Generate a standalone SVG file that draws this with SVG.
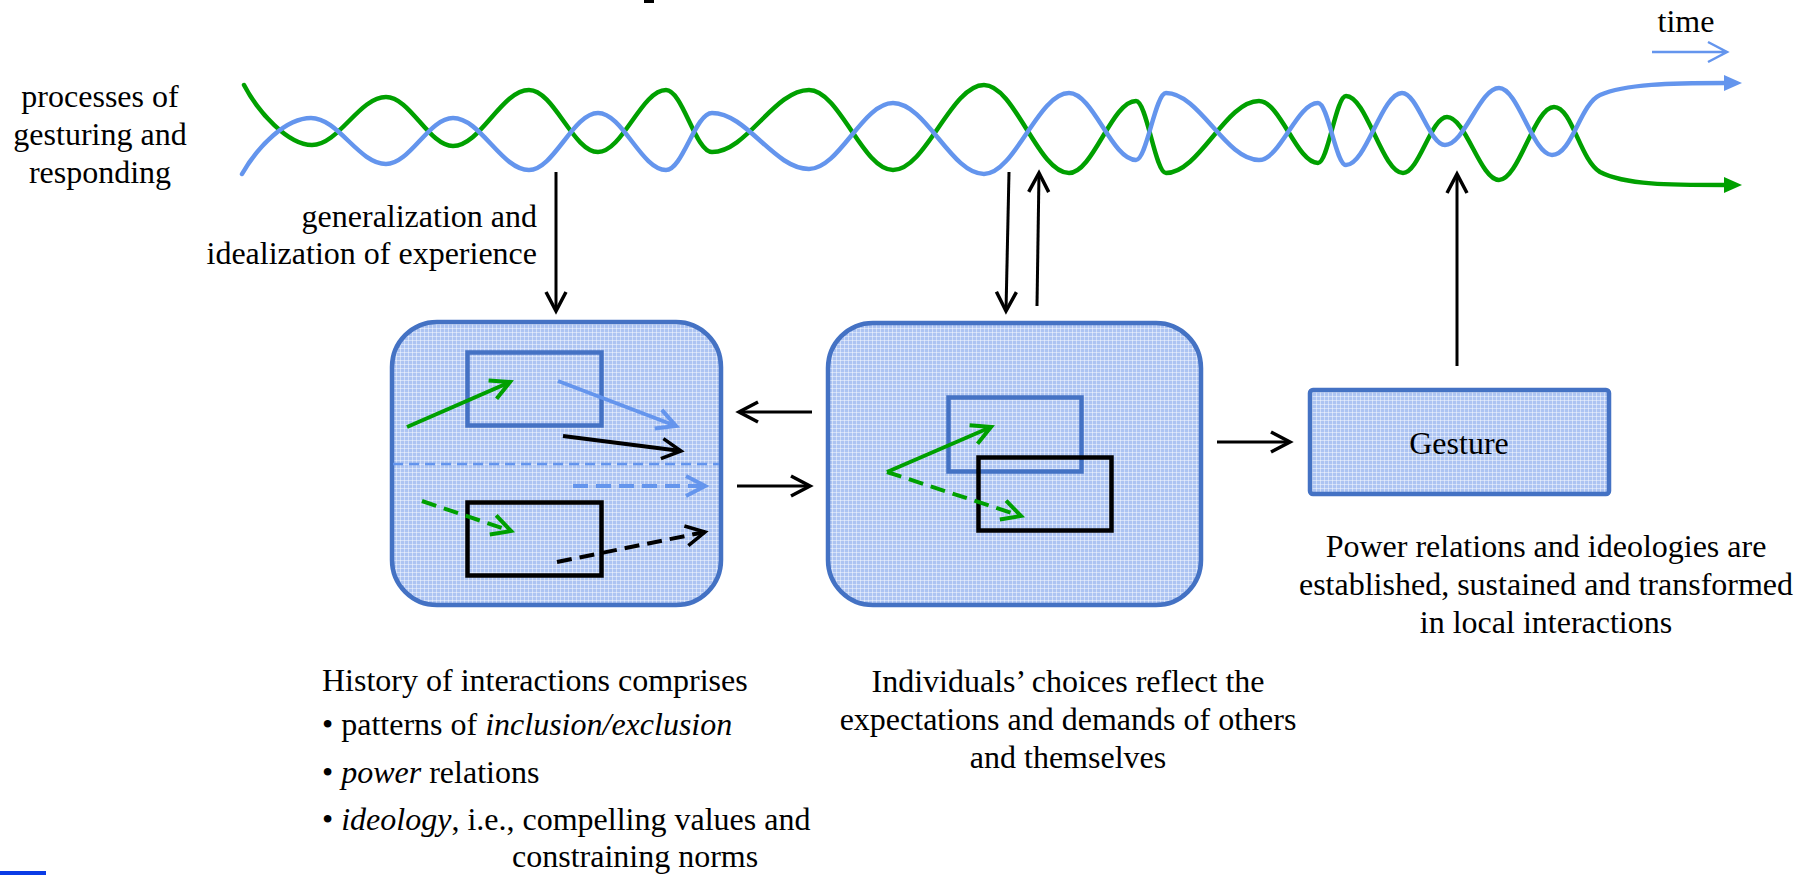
<svg xmlns="http://www.w3.org/2000/svg" width="1807" height="875" viewBox="0 0 1807 875">
<style>
  text { font-family: "Liberation Serif", "Times New Roman", serif; font-size: 32px; fill: #000; }
  .c { text-anchor: middle; }
  .r { text-anchor: end; }
  .it { font-style: italic; }
  .blue-wave { fill: none; stroke: #6495ED; stroke-width: 4.5; stroke-linecap: round; }
  .green-wave { fill: none; stroke: #00A000; stroke-width: 4.5; stroke-linecap: round; }
  .box { fill: url(#grid); stroke: #4472C4; stroke-width: 4.5; }
  .inner-blue { fill: none; stroke: #4472C4; stroke-width: 4.5; }
  .inner-black { fill: none; stroke: #000; stroke-width: 4.5; }
  .conn { fill: none; stroke: #000; stroke-width: 3; marker-end: url(#ab); }
  .ia-black { fill: none; stroke: #000; stroke-width: 4; marker-end: url(#ab); }
  .ia-green { fill: none; stroke: #00A000; stroke-width: 4; marker-end: url(#ag); }
  .ia-blue { fill: none; stroke: #6495ED; stroke-width: 4; marker-end: url(#al); }
  .dash { stroke-dasharray: 15 8; }
</style>
<defs>
  <pattern id="grid" width="4" height="4" patternUnits="userSpaceOnUse">
    <rect width="4" height="4" fill="#adc4f2"/>
    <rect x="0" y="0" width="4" height="1" fill="#ffffff" fill-opacity="0.45"/>
    <rect x="0" y="0" width="1" height="4" fill="#ffffff" fill-opacity="0.45"/>
  </pattern>
  <marker id="ab" viewBox="-22 -12 26 24" refX="0" refY="0" markerWidth="26" markerHeight="24" markerUnits="userSpaceOnUse" orient="auto">
    <path d="M-19,-10 L0,0 L-19,10" fill="none" stroke="#000" stroke-width="3.5" stroke-dasharray="none"/>
  </marker>
  <marker id="ag" viewBox="-22 -12 26 24" refX="0" refY="0" markerWidth="26" markerHeight="24" markerUnits="userSpaceOnUse" orient="auto">
    <path d="M-19,-10 L0,0 L-19,10" fill="none" stroke="#00A000" stroke-width="4" stroke-dasharray="none"/>
  </marker>
  <marker id="al" viewBox="-22 -12 26 24" refX="0" refY="0" markerWidth="26" markerHeight="24" markerUnits="userSpaceOnUse" orient="auto">
    <path d="M-19,-10 L0,0 L-19,10" fill="none" stroke="#6495ED" stroke-width="4" stroke-dasharray="none"/>
  </marker>
</defs>
<rect width="1807" height="875" fill="#ffffff"/>

<!-- fragments at edges -->
<rect x="644" y="0" width="10" height="3" fill="#000"/>
<rect x="0" y="871" width="46" height="4" fill="#0a3ce6"/>

<!-- process curves -->
<g id="process-curves">
  <path class="green-wave" d="M244,85 C258,112 288,145 312,145 C338.6,145 359.4,97 386,97 C410.1,97 428.9,146 453,146 C480.4,146 501.6,90 529,90 C553.8,90 573.2,152 598,152 C622.5,152 641.5,90 666,90 C682.6,90 695.4,152 712,152 C746.9,152 774.1,90 809,90 C839.2,90 862.8,170 893,170 C925.8,170 951.2,85 984,85 C1014.6,85 1038.4,173 1069,173 C1093.1,173 1111.9,101 1136,101 C1146.8,101 1155.2,173 1166,173 C1199.5,173 1225.5,101 1259,101 C1280.2,101 1296.8,163 1318,163 C1328.1,163 1335.9,96 1346,96 C1366.5,96 1382.5,173 1403,173 C1418.8,173 1431.2,117 1447,117 C1465.7,117 1480.3,180 1499,180 C1518.8,180 1534.2,107 1554,107 C1572,107 1580,160 1600,172 C1625,185 1670,185 1726,185"/>
  <polygon points="1742,185 1724,177 1724,193" fill="#00A000"/>
  <path class="blue-wave" d="M242,174 C258,146 286,118 311,118 C338,118 359,164 386,164 C410.1,164 428.9,118 453,118 C480.4,118 501.6,170 529,170 C553.8,170 573.2,113 598,113 C622.5,113 641.5,170 666,170 C682.6,170 695.4,113 712,113 C746.9,113 774.1,169 809,169 C839.2,169 862.8,103 893,103 C925.8,103 951.2,174 984,174 C1014.6,174 1038.4,93 1069,93 C1093.1,93 1111.9,160 1136,160 C1146.8,160 1155.2,93 1166,93 C1199.5,93 1225.5,160 1259,160 C1280.2,160 1296.8,103 1318,103 C1328.1,103 1335.9,165 1346,165 C1366.2,165 1381.8,93 1402,93 C1417.5,93 1429.5,145 1445,145 C1464.4,145 1479.6,88 1499,88 C1518.1,88 1532.9,155 1552,155 C1572,155 1580,104 1600,95 C1625,84 1670,83 1726,83"/>
  <polygon points="1742,83 1724,75 1724,91" fill="#6495ED"/>
</g>

<!-- time indicator -->
<g id="time">
  <text class="c" x="1686" y="32">time</text>
  <path d="M1652,52 L1725,52 M1708,42 L1727,52 L1708,62" fill="none" stroke="#6495ED" stroke-width="2.5"/>
</g>

<!-- node: history of interactions -->
<g id="node-history">
  <rect class="box" x="392" y="322" width="329" height="283" rx="45" ry="45"/>
  <rect class="inner-blue" x="467.5" y="352.5" width="134" height="73"/>
  <rect class="inner-black" x="467.5" y="502.5" width="134" height="73"/>
  <line x1="393" y1="464" x2="719" y2="464" stroke="#6495ED" stroke-width="2.5" stroke-dasharray="10 6"/>
  <path class="ia-green" d="M407,427 L510,382"/>
  <path class="ia-blue" d="M558,381 L676,426"/>
  <path class="ia-black" d="M563,436 L681,451"/>
  <path class="ia-blue dash" d="M573,486 L705,486"/>
  <path class="ia-green dash" d="M422,501 L511,531"/>
  <path class="ia-black dash" d="M557,562 L705,532"/>
</g>

<!-- node: individuals -->
<g id="node-individuals">
  <rect class="box" x="828" y="323" width="373" height="282" rx="45" ry="45"/>
  <rect class="inner-blue" x="948.5" y="397.5" width="133" height="74"/>
  <rect class="inner-black" x="978.5" y="457.5" width="133" height="73"/>
  <path class="ia-green" d="M887,472 L991,427"/>
  <path class="ia-green dash" d="M887,472 L1021,516"/>
</g>

<!-- node: gesture -->
<g id="node-gesture">
  <rect class="box" x="1310" y="390" width="299" height="104" rx="3" ry="3"/>
  <text class="c" x="1459" y="454">Gesture</text>
</g>

<!-- connectors -->
<g id="connectors">
  <path class="conn" d="M556,172 L556,311"/>
  <path class="conn" d="M1009,172 L1006,311"/>
  <path class="conn" d="M1037,306 L1039,173"/>
  <path class="conn" d="M1457,366 L1457,174"/>
  <path class="conn" d="M812,412 L739,412"/>
  <path class="conn" d="M737,486 L810,486"/>
  <path class="conn" d="M1217,442 L1290,442"/>
</g>

<!-- labels -->
<g id="labels">
  <text class="c" x="100" y="107">processes of</text>
  <text class="c" x="100" y="145">gesturing and</text>
  <text class="c" x="100" y="183">responding</text>

  <text class="r" x="537" y="227">generalization and</text>
  <text class="r" x="537" y="264">idealization of experience</text>

  <text x="322" y="691">History of interactions comprises</text>
  <text x="322" y="735">• patterns of <tspan class="it">inclusion/exclusion</tspan></text>
  <text x="322" y="783">• <tspan class="it">power</tspan> relations</text>
  <text x="322" y="830">• <tspan class="it">ideology</tspan>, i.e., compelling values and</text>
  <text x="512" y="867">constraining norms</text>

  <text class="c" x="1068" y="692">Individuals’ choices reflect the</text>
  <text class="c" x="1068" y="730">expectations and demands of others</text>
  <text class="c" x="1068" y="768">and themselves</text>

  <text class="c" x="1546" y="557">Power relations and ideologies are</text>
  <text class="c" x="1546" y="595">established, sustained and transformed</text>
  <text class="c" x="1546" y="633">in local interactions</text>
</g>
</svg>
